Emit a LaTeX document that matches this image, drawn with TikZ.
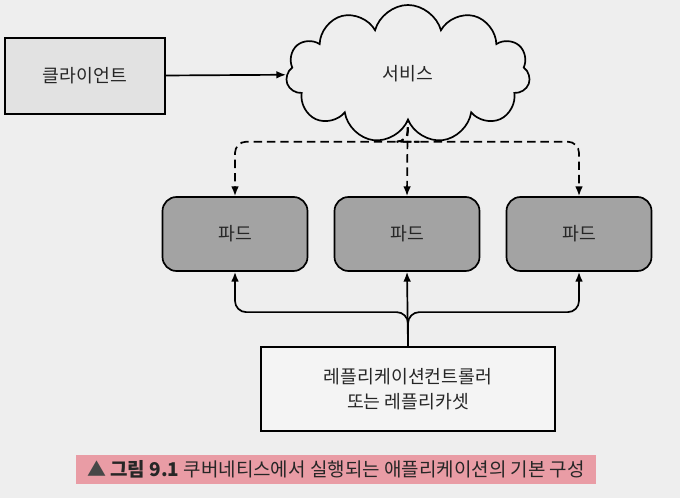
\documentclass[tikz,border=0pt]{standalone}
\usepackage{fontspec}
\setmainfont{Noto Sans CJK KR}
\usetikzlibrary{arrows.meta,shapes.symbols,backgrounds}
\usepackage{xcolor}
\definecolor{pagegray}{HTML}{EEEEEE}
\definecolor{podgray}{HTML}{A3A3A3}
\definecolor{clientgray}{HTML}{E2E2E2}
\definecolor{ctrlgray}{HTML}{F4F4F4}
\definecolor{marker}{HTML}{E99CA5}
\definecolor{ink}{HTML}{262626}

\begin{document}
\begin{tikzpicture}[->,>={Latex[length=7pt,width=5.5pt]},line width=1.2pt,node distance=4.3cm,
        font=\fontsize{13}{18}\selectfont,text=ink,
        pod/.style={draw,rounded corners=10pt,fill=podgray,
            minimum width=3.625cm,minimum height=1.85cm},
        client/.style={draw,fill=clientgray,minimum width=4cm,minimum height=1.9cm},
        ctrl/.style={draw,fill=ctrlgray,align=center,minimum width=7.35cm,minimum height=2.1cm},
        svc/.style={draw,fill=pagegray,cloud,cloud puffs=11,cloud ignores aspect,
            minimum width=6.1cm,minimum height=3.45cm},
        link/.style={line width=1.2pt,draw=black,rounded corners=8pt},
        svclink/.style={link,dash pattern=on 6pt off 3.5pt},
        caption/.style={fill=marker,inner xsep=8pt,inner ysep=4pt,
            font=\fontsize{13.5}{16}\selectfont}]
    \useasboundingbox (0,0) rectangle (17,12.45);

    \node[client] (C) at (2.125,10.55) {클라이언트};
    \node[svc] (S) at (10.2,10.6) {서비스};

    \node[pod] (P2) at (10.175,6.6) {파드};
    \node[pod] (P1) [left of=P2] {파드};
    \node[pod] (P3) [right of=P2] {파드};

    \node[ctrl] (R) at (10.2,2.725) {레플리케이션컨트롤러\\또는 레플리카셋};

    \node[caption] (cap) at (8.4,0.72)
        {{\color{ink!85}▲} \textbf{그림 9.1} 쿠버네티스에서 실행되는 애플리케이션의 기본 구성};

    % client -> service
    \draw[link] (C) -- (S);

    % controller -> pods
    \draw[link] (R.north) -- (P2.south);
    \draw[link] (R.north) -- ++(0,0.85) -| (P1.south);
    \draw[link] (R.north) -- ++(0,0.85) -| (P3.south);

    % service -> pods (from behind the cloud)
    \begin{pgfonlayer}{background}
    \fill[-,pagegray] (0,0) rectangle (17,12.45);
    \draw[svclink] (S.center) -- (P2.north);
    \draw[svclink] (S.center) |- ([yshift=-0.5cm]S.south) -| (P1.north);
    \draw[svclink] (S.center) |- ([yshift=-0.5cm]S.south) -| (P3.north);
    \end{pgfonlayer}

\end{tikzpicture}
\end{document}
